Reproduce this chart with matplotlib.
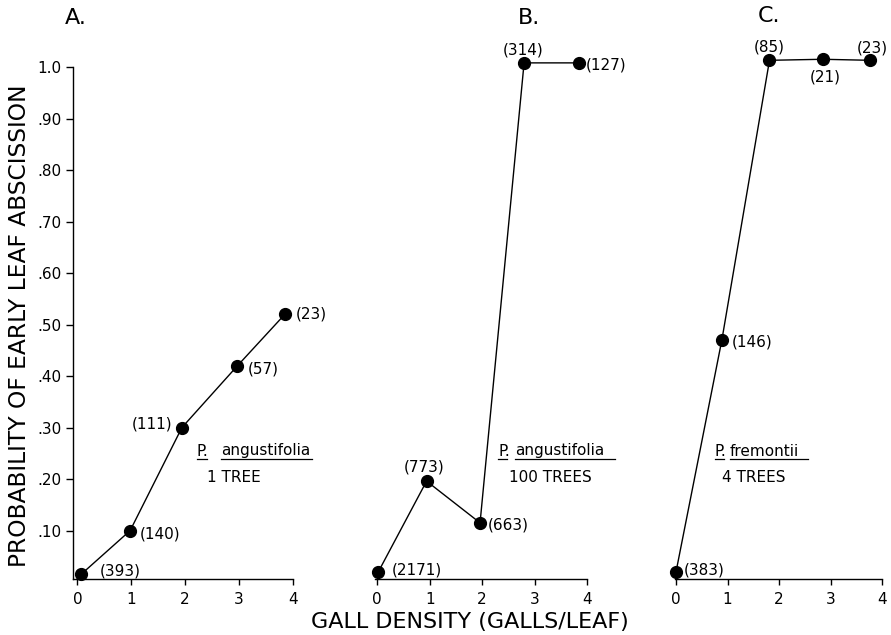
import matplotlib
matplotlib.use("Agg")
import matplotlib.pyplot as plt
from matplotlib.lines import Line2D

plt.rcParams['font.family'] = ['DejaVu Sans']

# ---- data ----
x_A = [0.07, 0.98, 1.94, 2.97, 3.85]
y_A = [0.015, 0.10, 0.30, 0.42, 0.52]
n_A = ["(393)", "(140)", "(111)", "(57)", "(23)"]

x_B = [0.02, 0.94, 1.96, 2.80, 3.84]
y_B = [0.02, 0.196, 0.115, 1.008, 1.008]
n_B = ["(2171)", "(773)", "(663)", "(314)", "(127)"]

x_C = [0.0, 0.89, 1.815, 2.85, 3.77]
y_C = [0.02, 0.47, 1.013, 1.015, 1.013]
n_C = ["(383)", "(146)", "(85)", "(21)", "(23)"]

panel_titles = ["A.", "B.", "C."]
species = ["angustifolia", "angustifolia", "fremontii"]
trees = ["1 TREE", "100 TREES", "4 TREES"]
x_ticks = [0, 1, 2, 3, 4]
y_ticks = [0.10, 0.20, 0.30, 0.40, 0.50, 0.60, 0.70, 0.80, 0.90, 1.0]
y_ticklabels = [".10", ".20", ".30", ".40", ".50", ".60", ".70", ".80", ".90", "1.0"]

W, H = 891, 635
fig = plt.figure(figsize=(W / 100, H / 100), dpi=100)

def fx(x):
    return x / W

def fy(y):
    return 1 - y / H

# axes rectangles in pixels: left, right, top, bottom
y_top, y_bot = 67, 579
ylim = (0.006, 1.0)
rects = [(73, 293), (375, 587), (675, 882)]
xlims = [(-0.08, 4.0), (-0.044, 4.0), (-0.02, 4.0)]

axes = []
for (l, r), xl in zip(rects, xlims):
    ax = fig.add_axes([fx(l), fy(y_bot), (r - l) / W, (y_bot - y_top) / H])
    ax.set_xlim(*xl)
    ax.set_ylim(*ylim)
    ax.patch.set_alpha(0)
    for s in ["top", "right"]:
        ax.spines[s].set_visible(False)
    ax.spines["bottom"].set_linewidth(1.0)
    ax.spines["left"].set_linewidth(1.0)
    ax.set_xticks(x_ticks)
    ax.set_xticklabels([str(t) for t in x_ticks])
    ax.tick_params(axis="x", direction="out", length=4, width=1.0, pad=5, labelsize=11)
    axes.append(ax)

axA, axB, axC = axes
axA.set_yticks(y_ticks)
axA.set_yticklabels(y_ticklabels)
axA.tick_params(axis="y", direction="out", length=5, width=1.0, pad=3, labelsize=11)
for ax in (axB, axC):
    ax.spines["left"].set_visible(False)
    ax.set_yticks([])

series = [(x_A, y_A, n_A), (x_B, y_B, n_B), (x_C, y_C, n_C)]
# label offsets in pixels (dx, dy up) and alignment
offsets = [
    [(19, 3, "left"), (10, -3, "left"), (-10, 4, "right"), (10, -3, "left"), (11, 0, "left")],
    [(13, 2, "left"), (-2, 14, "center"), (8, -2.5, "left"), (-1, 13, "center"), (7, -2, "left")],
    [(8, 2, "left"), (10, -2, "left"), (0, 13, "center"), (2, -18, "center"), (2, 12, "center")],
]

for ax, (xs, ys, ns), offs in zip(axes, series, offsets):
    ax.plot(xs, ys, color="black", lw=1.0, marker="o", markersize=8.5,
            markerfacecolor="black", markeredgecolor="black", clip_on=False, zorder=3)
    for x, y, n, (dx, dy, ha) in zip(xs, ys, ns, offs):
        ax.annotate(n, (x, y), xytext=(dx * 0.72, dy * 0.72), textcoords="offset points",
                    ha=ha, va="center", fontsize=11, annotation_clip=False)

# panel titles
for t, (tx, ty) in zip(panel_titles, [(76, 18), (529, 18), (769, 16)]):
    fig.text(fx(tx), fy(ty), t, ha="center", va="center", fontsize=16)

# species annotations
spec_pos = [
    # P. x-range, species x-range, trees x-left
    ((197, 207), (221, 312), 207),
    ((498, 507), (515, 615), 509),
    ((715, 724), (730, 808), 722),
]
for sp, tr, ((p0, p1), (s0, s1), t0) in zip(species, trees, spec_pos):
    fig.text(fx(p0), fy(451), "P.", ha="left", va="center", fontsize=11)
    fig.text(fx(s0), fy(451), sp, ha="left", va="center", fontsize=11)
    fig.add_artist(Line2D([fx(p0), fx(p1)], [fy(459), fy(459)], color="black", lw=0.9))
    fig.add_artist(Line2D([fx(s0), fx(s1)], [fy(459), fy(459)], color="black", lw=0.9))
    fig.text(fx(t0), fy(478), tr, ha="left", va="center", fontsize=11)

# axis labels
fig.text(fx(20), fy(326), "PROBABILITY OF EARLY LEAF ABSCISSION", rotation=90,
         ha="center", va="center", fontsize=16.8)
fig.text(fx(470), fy(622), "GALL DENSITY (GALLS/LEAF)", ha="center", va="center", fontsize=16)

fig.savefig("out.png", dpi=100)
